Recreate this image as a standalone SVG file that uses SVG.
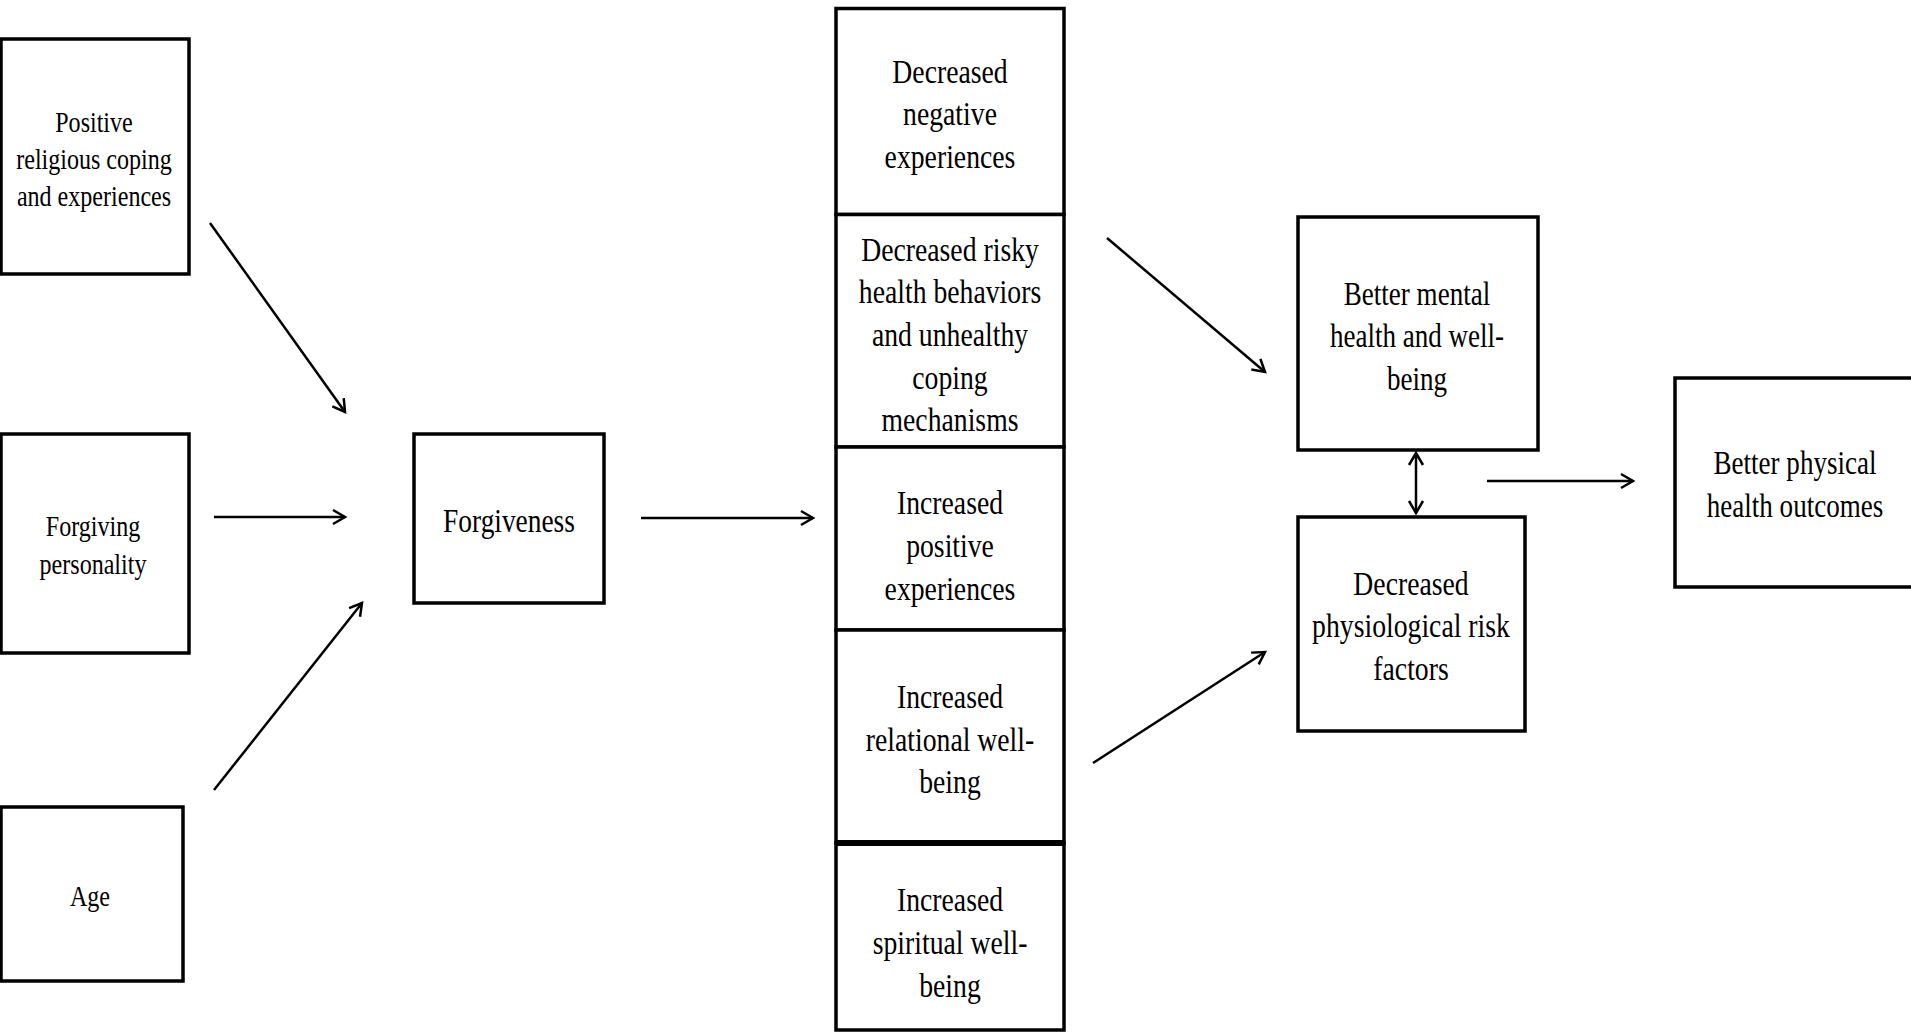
<svg xmlns="http://www.w3.org/2000/svg" width="1911" height="1032" viewBox="0 0 1911 1032">
<defs>
<style>
.box{fill:#fff;stroke:#000;stroke-width:3.5}
.lbl{font-family:"Liberation Serif","Times New Roman",serif;fill:#000;text-anchor:middle}
.s{font-size:29px}
.m{font-size:33px}
.c line{stroke:#000;stroke-width:2.5;fill:none}
</style>
<marker id="ah" markerUnits="userSpaceOnUse" markerWidth="20" markerHeight="20" refX="13" refY="8" orient="auto-start-reverse" viewBox="0 0 20 16">
<path d="M1,1 L13,8 L1,15" fill="none" stroke="#000" stroke-width="2.5"/>
</marker>
</defs>
<rect width="1911" height="1032" fill="#fff"/>

<g id="n-religious">
<rect class="box" x="1" y="39" width="188" height="235"/>
<text class="lbl s" transform="translate(94,0) scale(0.83,1)"><tspan x="0" y="132">Positive</tspan><tspan x="0" y="169">religious coping</tspan><tspan x="0" y="206">and experiences</tspan></text>
</g>
<g id="n-personality">
<rect class="box" x="1" y="434" width="188" height="219"/>
<text class="lbl s" transform="translate(93,0) scale(0.83,1)"><tspan x="0" y="536">Forgiving</tspan><tspan x="0" y="574">personality</tspan></text>
</g>
<g id="n-age">
<rect class="box" x="1" y="807" width="182" height="174"/>
<text class="lbl s" transform="translate(90,0) scale(0.83,1)"><tspan x="0" y="906">Age</tspan></text>
</g>
<g id="n-forgiveness">
<rect class="box" x="414" y="434" width="190" height="169"/>
<text class="lbl m" transform="translate(509,0) scale(0.83,1)"><tspan x="0" y="532">Forgiveness</tspan></text>
</g>

<g id="n-dec-negative">
<rect class="box" x="836" y="8.5" width="228" height="206"/>
<text class="lbl m" transform="translate(950,0) scale(0.84,1)"><tspan x="0" y="83">Decreased</tspan><tspan x="0" y="125.5">negative</tspan><tspan x="0" y="168">experiences</tspan></text>
</g>
<g id="n-dec-risky">
<rect class="box" x="836" y="214.5" width="228" height="232.5"/>
<text class="lbl m" transform="translate(950,0) scale(0.84,1)"><tspan x="0" y="261">Decreased risky</tspan><tspan x="0" y="303.5">health behaviors</tspan><tspan x="0" y="346">and unhealthy</tspan><tspan x="0" y="389">coping</tspan><tspan x="0" y="431.5">mechanisms</tspan></text>
</g>
<g id="n-inc-positive">
<rect class="box" x="836" y="447" width="228" height="183"/>
<text class="lbl m" transform="translate(950,0) scale(0.84,1)"><tspan x="0" y="514">Increased</tspan><tspan x="0" y="557">positive</tspan><tspan x="0" y="600">experiences</tspan></text>
</g>
<g id="n-inc-relational">
<rect class="box" x="836" y="630" width="228" height="213"/>
<text class="lbl m" transform="translate(950,0) scale(0.84,1)"><tspan x="0" y="708">Increased</tspan><tspan x="0" y="751">relational well-</tspan><tspan x="0" y="793">being</tspan></text>
</g>
<g id="n-inc-spiritual">
<rect class="box" x="836" y="843" width="228" height="187" style="stroke-width:3.5"/>
<line x1="836" y1="843" x2="1064" y2="843" stroke="#000" stroke-width="6"/>
<text class="lbl m" transform="translate(950,0) scale(0.84,1)"><tspan x="0" y="911">Increased</tspan><tspan x="0" y="954">spiritual well-</tspan><tspan x="0" y="997">being</tspan></text>
</g>

<g id="n-mental">
<rect class="box" x="1298" y="217" width="240" height="233"/>
<text class="lbl m" transform="translate(1417,0) scale(0.82,1)"><tspan x="0" y="305">Better mental</tspan><tspan x="0" y="347">health and well-</tspan><tspan x="0" y="390">being</tspan></text>
</g>
<g id="n-physiological">
<rect class="box" x="1298" y="517" width="227" height="214"/>
<text class="lbl m" transform="translate(1411,0) scale(0.84,1)"><tspan x="0" y="595">Decreased</tspan><tspan x="0" y="637.5">physiological risk</tspan><tspan x="0" y="680">factors</tspan></text>
</g>
<g id="n-physical">
<rect class="box" x="1675" y="378" width="245" height="209"/>
<text class="lbl m" transform="translate(1795,0) scale(0.82,1)"><tspan x="0" y="474">Better physical</tspan><tspan x="0" y="517">health outcomes</tspan></text>
</g>

<g id="connectors" class="c">
<line x1="210" y1="223" x2="345" y2="412" marker-end="url(#ah)"/>
<line x1="214" y1="517" x2="345" y2="517" marker-end="url(#ah)"/>
<line x1="214" y1="790" x2="362" y2="603" marker-end="url(#ah)"/>
<line x1="641" y1="518" x2="813" y2="518" marker-end="url(#ah)"/>
<line x1="1107" y1="238" x2="1265" y2="372" marker-end="url(#ah)"/>
<line x1="1093" y1="763" x2="1265" y2="652" marker-end="url(#ah)"/>
<line x1="1416" y1="453" x2="1416" y2="513" marker-start="url(#ah)" marker-end="url(#ah)"/>
<line x1="1487" y1="481" x2="1633" y2="481" marker-end="url(#ah)"/>
</g>
</svg>
